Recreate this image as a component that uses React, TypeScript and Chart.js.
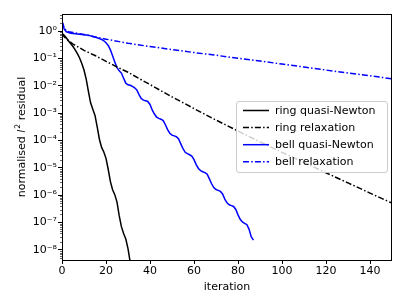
import React, { useEffect, useRef } from "react";
import { Chart, registerables } from "chart.js";

Chart.register(...registerables);

// ---- data ----
const seriesNames = ["ring quasi-Newton", "ring relaxation", "bell quasi-Newton", "bell relaxation"];

// ring quasi-Newton: one value per iteration, 0..31
const ringQuasiNewton = [
  0.832, 0.708, 0.562, 0.437, 0.347, 0.275, 0.209, 0.151, 0.105, 0.0661,
  0.038, 0.0178, 6.31e-3, 2.4e-3, 1.41e-3, 8.32e-4, 3.16e-4, 1.12e-4, 5.62e-5, 3.8e-5,
  2.24e-5, 8.91e-6, 3.16e-6, 1.58e-6, 1.05e-6, 5.62e-7, 1.78e-7, 7.08e-8, 3.98e-8, 2.51e-8,
  1.12e-8, 3.55e-9,
];

// ring relaxation (sampled iterations)
const ringRelaxIter = [0, 1, 3, 5, 7, 10, 15, 20, 25, 30, 35, 40, 50, 60, 70, 80, 90, 100, 110, 120, 130, 140, 150];
const ringRelaxation = [
  0.832, 0.631, 0.447, 0.339, 0.275, 0.2, 0.129, 0.0794, 0.049, 0.0316, 0.0186, 0.0112,
  3.98e-3, 1.48e-3, 5.62e-4, 2.24e-4, 8.91e-5, 3.72e-5, 1.58e-5, 6.61e-6, 2.82e-6, 1.2e-6, 5.13e-7,
];

// bell quasi-Newton: one value per iteration, 0..87
const bellQuasiNewton = [
  2.29, 1.2, 0.955, 0.891, 0.851, 0.832, 0.813, 0.794, 0.776, 0.759,
  0.741, 0.724, 0.708, 0.676, 0.646, 0.617, 0.575, 0.537, 0.501, 0.447,
  0.38, 0.302, 0.209, 0.126, 0.0741, 0.0468, 0.0355, 0.0295, 0.0191, 0.0126,
  0.011, 0.0105, 9.55e-3, 8.51e-3, 7.08e-3, 4.79e-3, 3.47e-3, 3.02e-3, 2.88e-3, 2.69e-3,
  2.09e-3, 1.32e-3, 9.33e-4, 7.24e-4, 6.46e-4, 6.03e-4, 5.37e-4, 3.8e-4, 2.51e-4, 1.86e-4,
  1.58e-4, 1.48e-4, 1.38e-4, 1.15e-4, 7.59e-5, 5.01e-5, 3.72e-5, 3.31e-5, 3.02e-5, 2.69e-5,
  2.0e-5, 1.32e-5, 9.55e-6, 7.94e-6, 7.24e-6, 6.76e-6, 5.89e-6, 3.98e-6, 2.63e-6, 1.91e-6,
  1.62e-6, 1.51e-6, 1.38e-6, 1.12e-6, 7.24e-7, 5.25e-7, 4.47e-7, 4.17e-7, 3.89e-7, 3.02e-7,
  1.91e-7, 1.32e-7, 1.05e-7, 9.33e-8, 8.51e-8, 5.75e-8, 3.02e-8, 2.29e-8,
];

// bell relaxation (sampled iterations)
const bellRelaxIter = [0, 1, 2, 3, 5, 10, 15, 20, 26, 30, 40, 50, 60, 70, 80, 90, 100, 110, 120, 130, 140, 150];
const bellRelaxation = [
  2.29, 1.32, 1.05, 0.955, 0.891, 0.759, 0.617, 0.513, 0.417, 0.363, 0.275, 0.214,
  0.166, 0.132, 0.102, 0.0813, 0.0631, 0.049, 0.038, 0.0295, 0.0234, 0.0182,
];

const xTicks = [0, 20, 40, 60, 80, 100, 120, 140];
const yTicks = [1e-8, 1e-7, 1e-6, 1e-5, 1e-4, 1e-3, 1e-2, 1e-1, 1e0];
const xLimits = [0, 150];
const yLimits = [4.27e-9, 4.27];

const FONT = "'DejaVu Sans', sans-serif";
const DASHDOT = [6, 2.2, 1.5, 2.2];

const supMap: Record<string, string> = {
  "-": "\u207B", "0": "\u2070", "1": "\u00B9", "2": "\u00B2", "3": "\u00B3",
  "4": "\u2074", "5": "\u2075", "6": "\u2076", "7": "\u2077", "8": "\u2078", "9": "\u2079",
};
const sup = (n: number) => String(n).split("").map((c) => supMap[c] ?? c).join("");

const extrasPlugin = {
  id: "extras",
  afterDraw(chart: any) {
    const { ctx, chartArea } = chart;
    const { left, right, top, bottom } = chartArea;
    const yScale = chart.scales.y;
    ctx.save();
    // minor ticks on log axis
    ctx.strokeStyle = "#000";
    ctx.lineWidth = 0.6;
    for (let d = -9; d <= 0; d++) {
      for (let k = 2; k <= 9; k++) {
        const v = k * Math.pow(10, d);
        if (v < yLimits[0] || v > yLimits[1]) continue;
        const py = Math.round(yScale.getPixelForValue(v)) + 0.5;
        ctx.beginPath();
        ctx.moveTo(left - 2, py);
        ctx.lineTo(left, py);
        ctx.stroke();
      }
    }
    // frame
    ctx.lineWidth = 1;
    ctx.strokeStyle = "#000";
    ctx.strokeRect(left + 0.5, top + 0.5, right - left - 1, bottom - top);

    // legend
    const bx = 236.5, by = 101.5, bw = 151, bh = 71, r = 2.5;
    ctx.beginPath();
    ctx.moveTo(bx + r, by);
    ctx.lineTo(bx + bw - r, by);
    ctx.quadraticCurveTo(bx + bw, by, bx + bw, by + r);
    ctx.lineTo(bx + bw, by + bh - r);
    ctx.quadraticCurveTo(bx + bw, by + bh, bx + bw - r, by + bh);
    ctx.lineTo(bx + r, by + bh);
    ctx.quadraticCurveTo(bx, by + bh, bx, by + bh - r);
    ctx.lineTo(bx, by + r);
    ctx.quadraticCurveTo(bx, by, bx + r, by);
    ctx.closePath();
    ctx.fillStyle = "rgba(255,255,255,0.8)";
    ctx.fill();
    ctx.strokeStyle = "#cccccc";
    ctx.lineWidth = 1;
    ctx.stroke();

    ctx.font = `11px ${FONT}`;
    ctx.textBaseline = "middle";
    ctx.textAlign = "left";
    chart.data.datasets.forEach((ds: any, i: number) => {
      const yy = 110.5 + i * 17.1;
      ctx.beginPath();
      ctx.setLineDash(ds.borderDash || []);
      ctx.strokeStyle = ds.borderColor;
      ctx.lineWidth = ds.borderWidth;
      ctx.moveTo(243, yy);
      ctx.lineTo(269, yy);
      ctx.stroke();
      ctx.setLineDash([]);
      ctx.fillStyle = "#000";
      ctx.fillText(ds.label, 275, yy + 0.5);
    });

    // axis titles
    ctx.fillStyle = "#000";
    ctx.font = `11px ${FONT}`;
    ctx.textAlign = "center";
    ctx.textBaseline = "middle";
    ctx.fillText("iteration", (left + right) / 2, 287);

    ctx.translate(24.5, (top + bottom) / 2);
    ctx.rotate(-Math.PI / 2);
    ctx.textBaseline = "alphabetic";
    ctx.textAlign = "left";
    const parts = [
      { t: "normalised ", f: `11px ${FONT}`, dy: 0 },
      { t: "l", f: `italic 11px ${FONT}`, dy: 0 },
      { t: "2", f: `7.7px ${FONT}`, dy: -4.5 },
      { t: " residual", f: `11px ${FONT}`, dy: 0 },
    ];
    let total = 0;
    const widths = parts.map((p) => {
      ctx.font = p.f;
      const w = ctx.measureText(p.t).width + (p.t === "l" ? 1 : 0);
      total += w;
      return w;
    });
    let cx = -total / 2;
    parts.forEach((p, i) => {
      ctx.font = p.f;
      ctx.fillText(p.t, cx, p.dy);
      cx += widths[i];
    });
    ctx.restore();
  },
};

export default function App() {
  const ref = useRef<HTMLCanvasElement | null>(null);
  useEffect(() => {
    if (!ref.current) return;
    const chart = new Chart(ref.current, {
      type: "line",
      data: {
        datasets: [
          {
            label: seriesNames[0],
            data: ringQuasiNewton.map((v, i) => ({ x: i, y: v })),
            borderColor: "#000000",
            borderWidth: 1.5,
          },
          {
            label: seriesNames[1],
            data: ringRelaxation.map((v, i) => ({ x: ringRelaxIter[i], y: v })),
            borderColor: "#000000",
            borderWidth: 1.5,
            borderDash: DASHDOT,
          },
          {
            label: seriesNames[2],
            data: bellQuasiNewton.map((v, i) => ({ x: i, y: v })),
            borderColor: "#0000ff",
            borderWidth: 1.5,
          },
          {
            label: seriesNames[3],
            data: bellRelaxation.map((v, i) => ({ x: bellRelaxIter[i], y: v })),
            borderColor: "#0000ff",
            borderWidth: 1.5,
            borderDash: DASHDOT,
          },
        ] as any,
      },
      options: {
        animation: false,
        responsive: false,
        devicePixelRatio: 1,
        layout: { padding: { top: 14, right: 15, left: 0, bottom: 0 } },
        elements: { point: { radius: 0 }, line: { tension: 0, fill: false } },
        plugins: { legend: { display: false }, tooltip: { enabled: false } },
        scales: {
          x: {
            type: "linear",
            min: xLimits[0],
            max: xLimits[1],
            afterFit: (s: any) => { s.height = 45; },
            afterBuildTicks: (s: any) => { s.ticks = xTicks.map((v) => ({ value: v })); },
            ticks: { color: "#000", font: { family: FONT, size: 11 }, padding: 1, maxRotation: 0 },
            grid: { drawOnChartArea: false, drawTicks: true, tickLength: 4, tickColor: "#000", tickWidth: 1 },
            border: { display: false },
          },
          y: {
            type: "logarithmic",
            min: yLimits[0],
            max: yLimits[1],
            afterFit: (s: any) => { s.width = 62; },
            afterBuildTicks: (s: any) => { s.ticks = yTicks.map((v) => ({ value: v })); },
            ticks: {
              color: "#000",
              font: { family: FONT, size: 11 },
              padding: 1,
              callback: (v: any) => "10" + sup(Math.round(Math.log10(Number(v)))),
            },
            grid: { drawOnChartArea: false, drawTicks: true, tickLength: 4, tickColor: "#000", tickWidth: 1 },
            border: { display: false },
          },
        },
      } as any,
      plugins: [extrasPlugin],
    });
    return () => chart.destroy();
  }, []);
  return (
    <div style={{ position: "absolute", left: 0, top: 0, width: 407, height: 305, background: "#fff" }}>
      <canvas ref={ref} width={407} height={305} style={{ display: "block" }} />
    </div>
  );
}
